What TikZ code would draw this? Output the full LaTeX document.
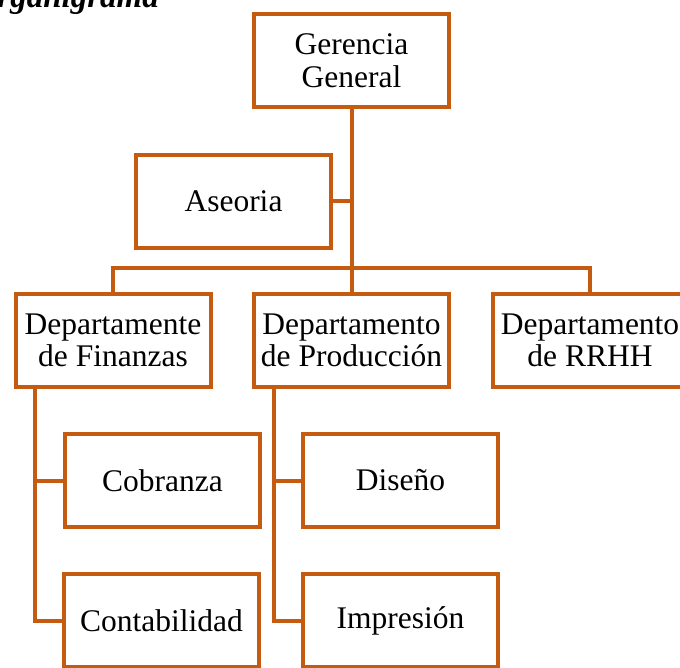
\documentclass[tikz,border=0pt]{standalone}
\usepackage{fontspec}
\setmainfont{Liberation Serif}
\definecolor{boxline}{HTML}{C55A11}
\begin{document}
\begin{tikzpicture}[x=1pt,y=-1pt,
  unit/.style={draw=boxline,line width=4pt,fill=white,minimum width=195pt,minimum height=93pt,
    inner sep=0pt,align=center,font=\fontsize{31.5}{32.5}\selectfont},
  link/.style={draw=boxline,line width=4pt}]
\useasboundingbox (0,0) rectangle (680,667);
\clip (0,0) rectangle (680,667);
\fill[white] (0,0) rectangle (680,667);
\node[anchor=base east,inner sep=0pt,font=\fontsize{33}{36}\selectfont\bfseries\itshape] (title) at (159,7) {Organigrama};
\node[unit] (gg) at (351.5,60.5) {Gerencia\\General};
\node[unit] (as) at (233.5,201) {Aseoria};
\node[unit] (fin) at (113,340.5) {Departamente\\de Finanzas};
\node[unit] (prod) at (351.5,340.5) {Departamento\\de Producción};
\node[unit] (rrhh) at (590,340.5) {Departamento\\de RRHH};
\node[unit] (cob) at (162.5,480.5) {Cobranza};
\node[unit] (cont) at (161.5,620.5) {Contabilidad};
\node[unit] (dis) at (400.5,480.5) {Diseño};
\node[unit] (imp) at (400.5,620.5) {Impresión};
\coordinate (bus) at (351.5,268);
\coordinate (fx) at (35,0);
\coordinate (px) at (273.5,0);
\draw[link] (gg.south) -- (bus);
\draw[link] (as.east) -- (as.east -| gg.south);
\draw[link] (fin.north) -- (fin.north |- bus) -- (rrhh.north |- bus) -- (rrhh.north);
\draw[link] (bus) -- (prod.north);
\draw[link] (fin.south -| fx) |- (cont.west);
\draw[link] (fin.south -| fx) |- (cob.west);
\draw[link] (prod.south -| px) |- (imp.west);
\draw[link] (prod.south -| px) |- (dis.west);
\end{tikzpicture}
\end{document}
